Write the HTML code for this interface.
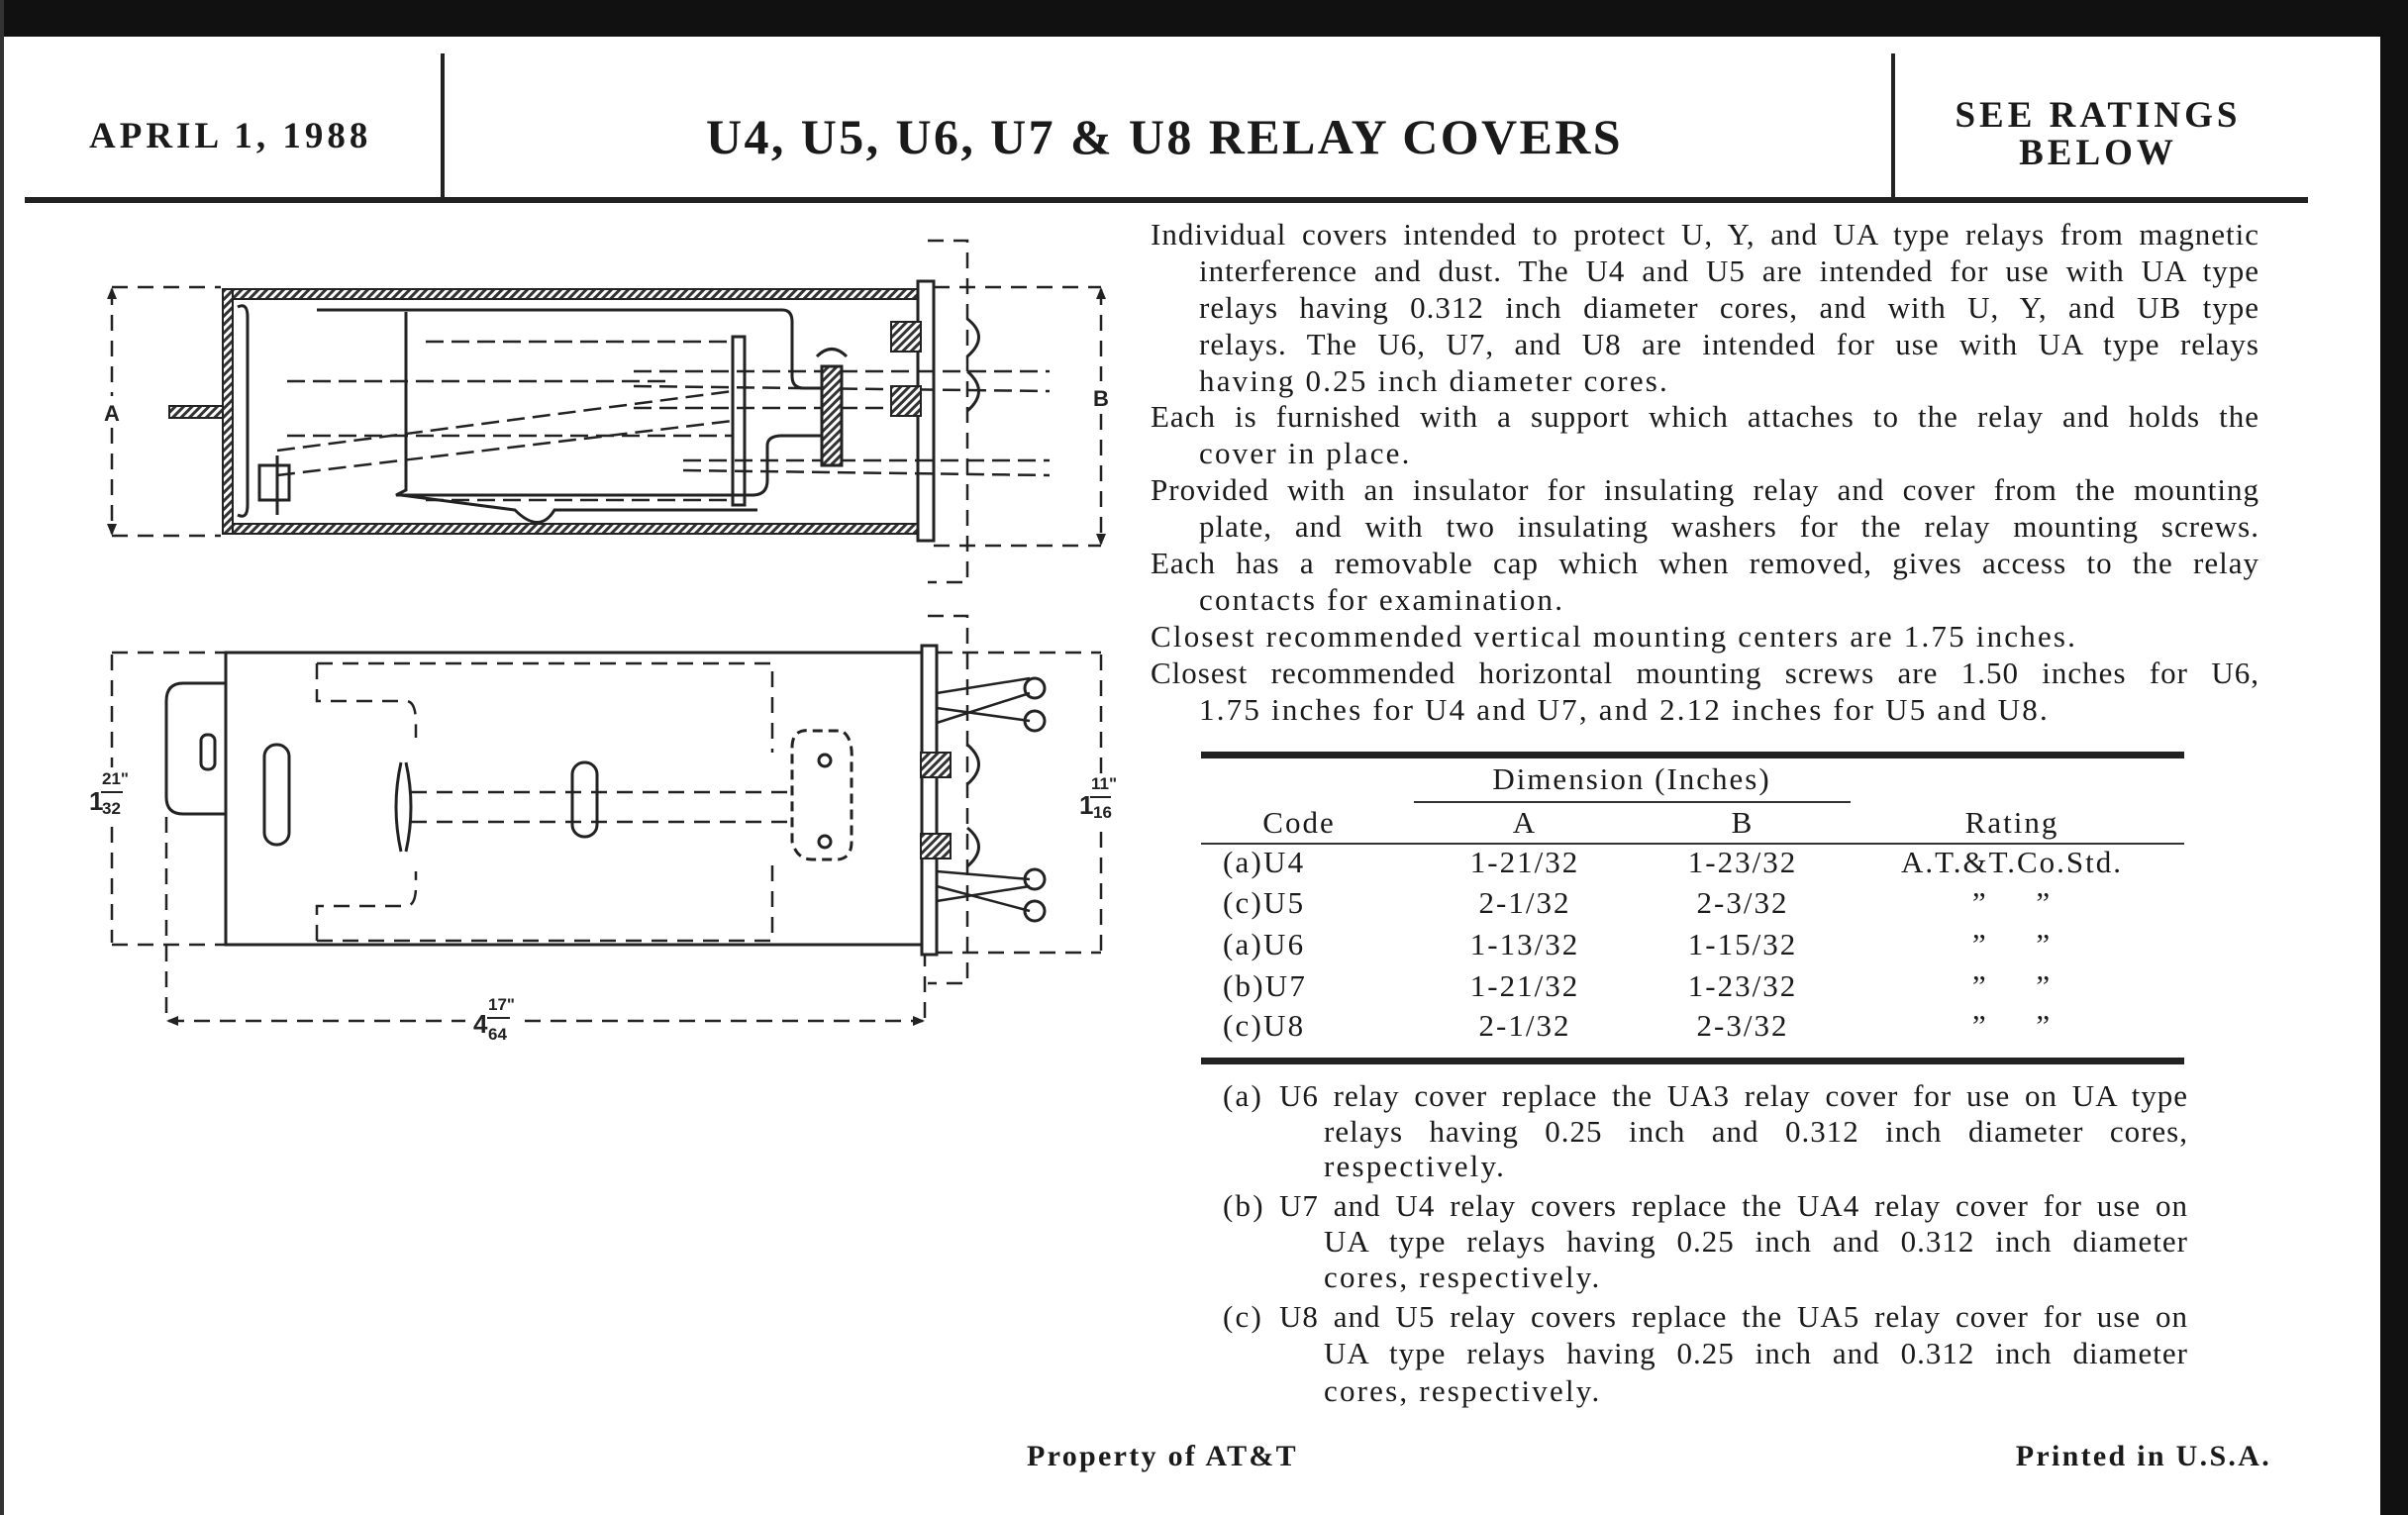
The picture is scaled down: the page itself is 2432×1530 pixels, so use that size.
<!DOCTYPE html>
<html><head><meta charset="utf-8"><style>
html,body{margin:0;padding:0}
body{width:2432px;height:1530px;position:relative;background:#fff;overflow:hidden;font-family:"Liberation Serif",serif;color:#1a1a1a}
.l{position:absolute;height:37px;line-height:37px;font-size:31px;white-space:nowrap;letter-spacing:2.2px}
.j{text-align:justify;text-align-last:justify;white-space:normal;overflow:hidden;letter-spacing:1px}
.b{font-weight:bold}
.c{position:absolute;font-size:31px;line-height:37px;white-space:nowrap;transform:translateX(-50%);letter-spacing:2px}
</style></head><body>
<div style="position:absolute;left:0;top:0;width:2432px;height:37px;background:#111"></div>
<div style="position:absolute;left:2404px;top:0;width:28px;height:1530px;background:#111"></div>
<div style="position:absolute;left:0;top:0;width:4px;height:1530px;background:#333"></div>
<div style="position:absolute;left:445px;top:54px;width:4px;height:148px;background:#222"></div>
<div style="position:absolute;left:1910px;top:54px;width:4px;height:148px;background:#222"></div>
<div style="position:absolute;left:25px;top:199px;width:2306px;height:6px;background:#222"></div>
<div class="l b" style="left:90px;top:116px;font-size:37px;line-height:44px;height:44px;letter-spacing:4px">APRIL 1, 1988</div>
<div class="c b" style="left:1176px;top:110px;font-size:50px;line-height:56px;letter-spacing:2.4px">U4, U5, U6, U7 &amp; U8 RELAY COVERS</div>
<div class="c b" style="left:2119px;top:98px;font-size:37px;line-height:38px;text-align:center;letter-spacing:4px">SEE RATINGS<br>BELOW</div>

<div class="l j" style="left:1162px;top:218px;width:1120px">Individual covers intended to protect U, Y, and UA type relays from magnetic</div>
<div class="l j" style="left:1211px;top:255px;width:1071px">interference and dust. The U4 and U5 are intended for use with UA type</div>
<div class="l j" style="left:1211px;top:292px;width:1071px">relays having 0.312 inch diameter cores, and with U, Y, and UB type</div>
<div class="l j" style="left:1211px;top:329px;width:1071px">relays. The U6, U7, and U8 are intended for use with UA type relays</div>
<div class="l" style="left:1211px;top:366px">having 0.25 inch diameter cores.</div>
<div class="l j" style="left:1162px;top:402px;width:1120px">Each is furnished with a support which attaches to the relay and holds the</div>
<div class="l" style="left:1211px;top:439px">cover in place.</div>
<div class="l j" style="left:1162px;top:476px;width:1120px">Provided with an insulator for insulating relay and cover from the mounting</div>
<div class="l j" style="left:1211px;top:513px;width:1071px">plate, and with two insulating washers for the relay mounting screws.</div>
<div class="l j" style="left:1162px;top:550px;width:1120px">Each has a removable cap which when removed, gives access to the relay</div>
<div class="l" style="left:1211px;top:587px">contacts for examination.</div>
<div class="l" style="left:1162px;top:624px">Closest recommended vertical mounting centers are 1.75 inches.</div>
<div class="l j" style="left:1162px;top:661px;width:1120px">Closest recommended horizontal mounting screws are 1.50 inches for U6,</div>
<div class="l" style="left:1211px;top:698px">1.75 inches for U4 and U7, and 2.12 inches for U5 and U8.</div>

<div style="position:absolute;left:1213px;top:759px;width:993px;height:7px;background:#222"></div>
<div style="position:absolute;left:1428px;top:809px;width:441px;height:2px;background:#333"></div>
<div style="position:absolute;left:1213px;top:851px;width:993px;height:2px;background:#333"></div>
<div style="position:absolute;left:1213px;top:1068px;width:993px;height:7px;background:#222"></div>
<div class="c" style="left:1648px;top:768px">Dimension (Inches)</div>
<div class="c" style="left:1312px;top:812px">Code</div>
<div class="c" style="left:1540px;top:812px">A</div>
<div class="c" style="left:1760px;top:812px">B</div>
<div class="c" style="left:2032px;top:812px">Rating</div>

<div class="l" style="left:1235px;top:852px">(a)U4</div><div class="c" style="left:1540px;top:852px">1-21/32</div><div class="c" style="left:1760px;top:852px">1-23/32</div><div class="c" style="left:2032px;top:852px">A.T.&amp;T.Co.Std.</div>
<div class="l" style="left:1235px;top:893px">(c)U5</div><div class="c" style="left:1540px;top:893px">2-1/32</div><div class="c" style="left:1760px;top:893px">2-3/32</div><div class="c" style="left:2032px;top:893px">”&nbsp;&nbsp;&nbsp;&nbsp;&nbsp;”</div>
<div class="l" style="left:1235px;top:935px">(a)U6</div><div class="c" style="left:1540px;top:935px">1-13/32</div><div class="c" style="left:1760px;top:935px">1-15/32</div><div class="c" style="left:2032px;top:935px">”&nbsp;&nbsp;&nbsp;&nbsp;&nbsp;”</div>
<div class="l" style="left:1235px;top:977px">(b)U7</div><div class="c" style="left:1540px;top:977px">1-21/32</div><div class="c" style="left:1760px;top:977px">1-23/32</div><div class="c" style="left:2032px;top:977px">”&nbsp;&nbsp;&nbsp;&nbsp;&nbsp;”</div>
<div class="l" style="left:1235px;top:1017px">(c)U8</div><div class="c" style="left:1540px;top:1017px">2-1/32</div><div class="c" style="left:1760px;top:1017px">2-3/32</div><div class="c" style="left:2032px;top:1017px">”&nbsp;&nbsp;&nbsp;&nbsp;&nbsp;”</div>

<div class="l" style="left:1235px;top:1088px">(a)</div>
<div class="l j" style="left:1292px;top:1088px;width:918px">U6 relay cover replace the UA3 relay cover for use on UA type</div>
<div class="l j" style="left:1337px;top:1124px;width:873px">relays having 0.25 inch and 0.312 inch diameter cores,</div>
<div class="l" style="left:1337px;top:1159px">respectively.</div>
<div class="l" style="left:1235px;top:1199px">(b)</div>
<div class="l j" style="left:1292px;top:1199px;width:918px">U7 and U4 relay covers replace the UA4 relay cover for use on</div>
<div class="l j" style="left:1337px;top:1235px;width:873px">UA type relays having 0.25 inch and 0.312 inch diameter</div>
<div class="l" style="left:1337px;top:1271px">cores, respectively.</div>
<div class="l" style="left:1235px;top:1311px">(c)</div>
<div class="l j" style="left:1292px;top:1311px;width:918px">U8 and U5 relay covers replace the UA5 relay cover for use on</div>
<div class="l j" style="left:1337px;top:1348px;width:873px">UA type relays having 0.25 inch and 0.312 inch diameter</div>
<div class="l" style="left:1337px;top:1386px">cores, respectively.</div>

<div class="c b" style="left:1174px;top:1452px;font-size:30px;letter-spacing:2.3px">Property of AT&amp;T</div>
<div class="l b" style="right:138px;top:1452px;font-size:30px;letter-spacing:2.3px">Printed in U.S.A.</div>

<svg width="2432" height="1530" style="position:absolute;left:0;top:0" xmlns="http://www.w3.org/2000/svg">
<defs><pattern id="h" width="6" height="6" patternUnits="userSpaceOnUse" patternTransform="rotate(45)"><rect width="6" height="6" fill="#fff"/><rect width="3" height="6" fill="#333"/></pattern></defs>
<g stroke="#222" fill="none" stroke-width="3">
<g stroke-dasharray="16 10" stroke-width="2.5">
<line x1="113" y1="290" x2="223" y2="290"/><line x1="113" y1="541" x2="223" y2="541"/>
<line x1="113" y1="292" x2="113" y2="400"/><line x1="113" y1="432" x2="113" y2="539"/>
<line x1="943" y1="290" x2="1112" y2="290"/><line x1="943" y1="551" x2="1112" y2="551"/>
<line x1="1112" y1="292" x2="1112" y2="385"/><line x1="1112" y1="418" x2="1112" y2="549"/>
<path d="M937 243 H977 V588 H937"/>
</g>
<rect x="225" y="292" width="702" height="10" fill="url(#h)" stroke-width="2"/>
<rect x="225" y="529" width="702" height="10" fill="url(#h)" stroke-width="2"/>
<rect x="225" y="292" width="10" height="247" fill="url(#h)" stroke-width="2"/>
<rect x="927" y="284" width="16" height="262" fill="#fff"/>
<rect x="171" y="410" width="54" height="12" fill="url(#h)" stroke-width="2"/>
<path d="M240 310 Q250 305 250 320 V510 Q250 525 240 520"/>
<path d="M320 313 H790 Q800 313 800 325 V380 Q800 392 812 392 H840"/>
<path d="M410 320 V495 L400 500 H760 Q775 500 775 485 V450 Q775 440 790 440 H830"/>
<path d="M405 500 L520 515 Q545 540 560 515 H765"/>
<path d="M410 315 V420"/>
<g stroke-width="2.5" stroke-dasharray="18 8">
<line x1="430" y1="345" x2="740" y2="345"/><line x1="290" y1="385" x2="680" y2="385"/>
<line x1="290" y1="440" x2="740" y2="440"/><line x1="280" y1="455" x2="740" y2="395"/>
<line x1="280" y1="480" x2="740" y2="425"/><line x1="430" y1="505" x2="740" y2="505"/>
<line x1="640" y1="375" x2="1060" y2="375"/><line x1="640" y1="390" x2="1060" y2="395"/>
<line x1="640" y1="412" x2="900" y2="412"/><line x1="690" y1="465" x2="1060" y2="465"/>
<line x1="690" y1="475" x2="1060" y2="480"/>
</g>
<rect x="740" y="340" width="12" height="170"/>
<rect x="830" y="370" width="20" height="100" fill="url(#h)"/>
<path d="M825 360 Q840 345 855 360"/>
<rect x="900" y="325" width="30" height="30" fill="url(#h)" stroke-width="2"/>
<rect x="900" y="390" width="30" height="30" fill="url(#h)" stroke-width="2"/>
<path d="M977 322 Q1000 340 977 360"/><path d="M977 375 Q1000 395 977 415"/>
<line x1="280" y1="460" x2="280" y2="520"/>
<rect x="262" y="470" width="30" height="35"/>
<g stroke-dasharray="16 10" stroke-width="2.5">
<line x1="113" y1="659" x2="228" y2="659"/><line x1="113" y1="954" x2="228" y2="954"/>
<line x1="113" y1="661" x2="113" y2="775"/><line x1="113" y1="835" x2="113" y2="952"/>
<line x1="946" y1="659" x2="1112" y2="659"/><line x1="946" y1="962" x2="1112" y2="962"/>
<line x1="1112" y1="661" x2="1112" y2="790"/><line x1="1112" y1="840" x2="1112" y2="960"/>
<path d="M937 622 H977 V993 H937"/>
<line x1="168" y1="825" x2="168" y2="1030"/><line x1="934" y1="960" x2="934" y2="1030"/>
<line x1="170" y1="1031" x2="470" y2="1031"/><line x1="530" y1="1031" x2="932" y2="1031"/>
<path d="M320 670 H780 V760"/><path d="M320 670 V708 H410 Q420 708 420 730 V745"/>
<path d="M320 950 H780 V870"/><path d="M320 950 V915 H410 Q420 915 420 895 V880"/>
<line x1="415" y1="800" x2="800" y2="800"/><line x1="415" y1="830" x2="800" y2="830"/>
</g>
<rect x="228" y="659" width="703" height="295" stroke-width="3"/>
<rect x="931" y="652" width="15" height="312" fill="#fff"/>
<path d="M228 690 H185 Q168 690 168 708 V805 Q168 822 185 822 H228"/>
<rect x="203" y="742" width="14" height="35" rx="6"/>
<rect x="267" y="752" width="25" height="101" rx="12"/>
<path d="M405 770 Q395 815 405 860"/><path d="M410 770 Q420 815 410 860"/>
<rect x="578" y="770" width="25" height="75" rx="12"/>
<path d="M800 755 Q800 735 820 738 H850 Q862 745 860 770 V850 Q860 870 840 868 H820 Q805 868 800 850 Z" stroke-dasharray="10 6"/>
<circle cx="833" cy="768" r="6"/><circle cx="833" cy="850" r="6"/>
<rect x="930" y="760" width="30" height="25" fill="url(#h)" stroke-width="2"/>
<rect x="930" y="842" width="30" height="25" fill="url(#h)" stroke-width="2"/>
<path d="M977 752 Q1000 772 977 792"/><path d="M977 836 Q1000 855 977 875"/>
<path d="M946 700 L1040 685 M946 715 L1040 728 M946 730 L1040 700" stroke-width="2.5"/>
<circle cx="1045" cy="695" r="10"/><circle cx="1045" cy="728" r="10"/>
<path d="M946 880 L1040 888 M946 895 L1040 920 M946 910 L1040 895" stroke-width="2.5"/>
<circle cx="1045" cy="888" r="10"/><circle cx="1045" cy="920" r="10"/>
</g>
<g fill="#222" stroke="none">
<polygon points="113,290 108,302 118,302"/><polygon points="113,541 108,529 118,529"/>
<polygon points="1112,290 1107,302 1117,302"/><polygon points="1112,551 1107,539 1117,539"/>
<polygon points="168,1031 180,1026 180,1036"/><polygon points="934,1031 922,1026 922,1036"/>
</g>
<g font-family="Liberation Sans, sans-serif" font-weight="bold" fill="#222">
<text x="113" y="425" font-size="22" text-anchor="middle">A</text>
<text x="1112" y="410" font-size="22" text-anchor="middle">B</text>
<text x="90" y="818" font-size="26">1</text>
<text x="103" y="792" font-size="17">21"</text><line x1="102" y1="800" x2="124" y2="800" stroke="#222" stroke-width="2"/>
<text x="103" y="822" font-size="17">32</text>
<text x="1090" y="822" font-size="26">1</text>
<text x="1102" y="797" font-size="17">11"</text><line x1="1101" y1="805" x2="1122" y2="805" stroke="#222" stroke-width="2"/>
<text x="1104" y="826" font-size="17">16</text>
<text x="478" y="1043" font-size="26">4</text>
<text x="493" y="1020" font-size="17">17"</text><line x1="492" y1="1028" x2="515" y2="1028" stroke="#222" stroke-width="2"/>
<text x="493" y="1050" font-size="17">64</text>
</g>
</svg>
</body></html>
